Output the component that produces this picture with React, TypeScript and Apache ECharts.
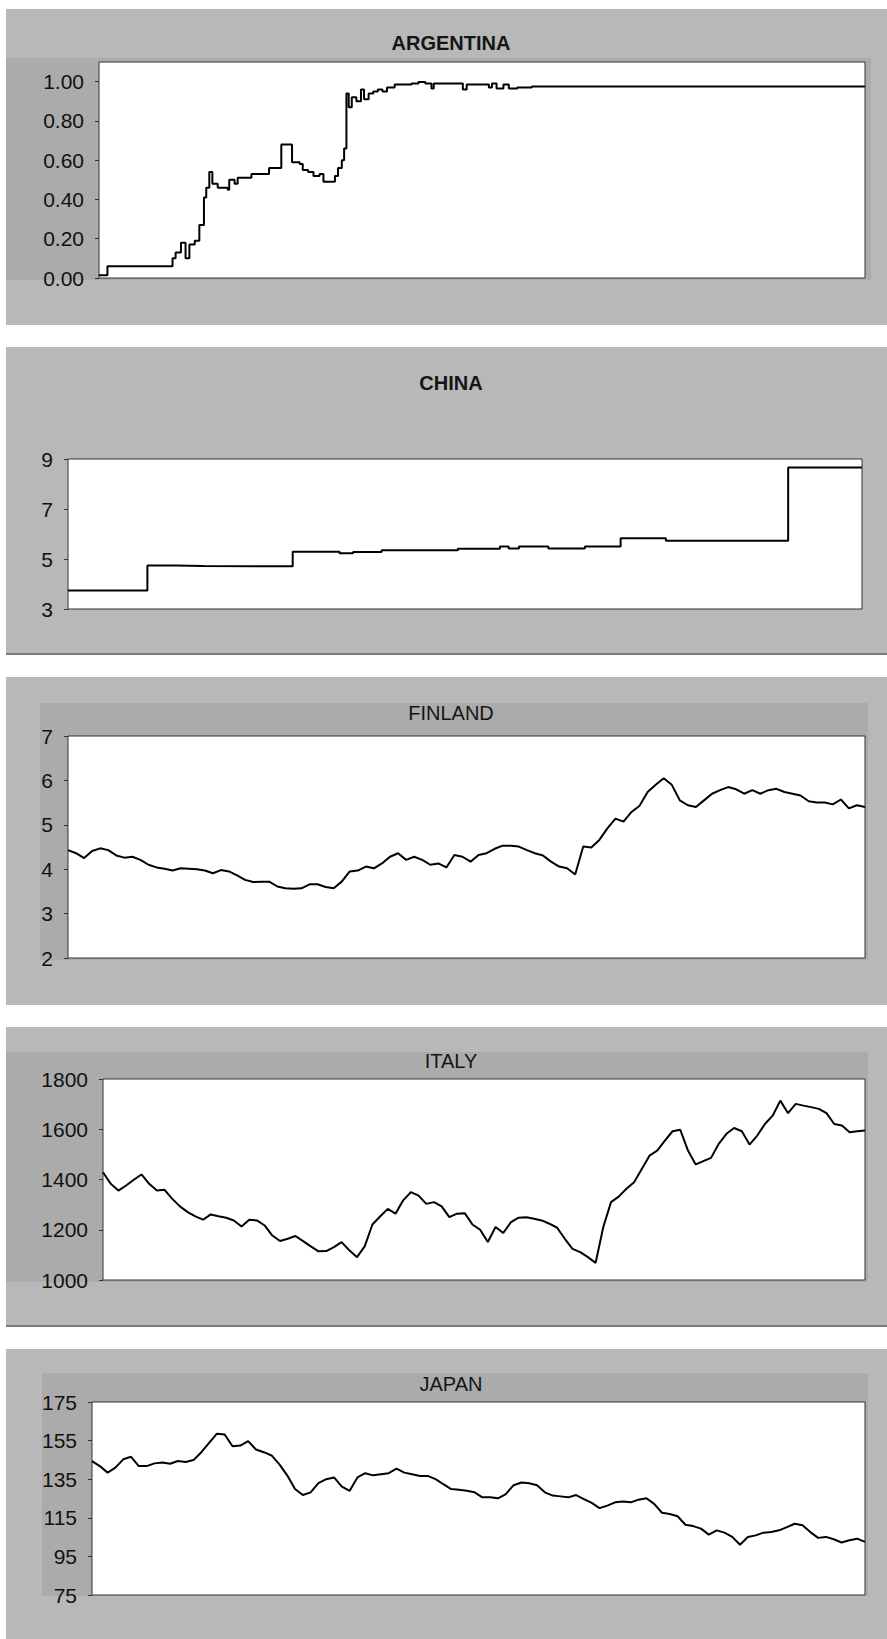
import React, { useEffect, useRef } from 'react';
import * as echarts from 'echarts';

// ---------- data ----------
const titles = ['ARGENTINA', 'CHINA', 'FINLAND', 'ITALY', 'JAPAN'];

// Argentina: step series (day index 0..1000, value)
const argDays = [0, 11, 96, 100, 107, 113, 118, 125, 131, 137, 140, 144, 148, 155, 168, 170, 177, 181, 199, 222, 238, 252, 262, 266, 273, 280, 288, 293, 308, 312, 317, 320, 323, 326, 330, 336, 342, 346, 352, 358, 364, 370, 376, 386, 408, 417, 426, 434, 437, 475, 480, 509, 513, 519, 528, 535, 546, 565, 1000];
const argValues = [0.014, 0.06, 0.10, 0.13, 0.18, 0.10, 0.17, 0.19, 0.27, 0.41, 0.46, 0.54, 0.48, 0.46, 0.45, 0.50, 0.48, 0.51, 0.53, 0.56, 0.68, 0.59, 0.58, 0.55, 0.54, 0.52, 0.53, 0.49, 0.52, 0.56, 0.60, 0.66, 0.94, 0.87, 0.92, 0.90, 0.96, 0.91, 0.94, 0.95, 0.96, 0.95, 0.97, 0.985, 0.99, 0.998, 0.99, 0.965, 0.99, 0.96, 0.985, 0.97, 0.99, 0.965, 0.985, 0.965, 0.97, 0.975, 0.975];

// China: step series
const chinaDays = [0, 100, 135, 171, 283, 342, 359, 395, 491, 544, 555, 568, 605, 651, 696, 753, 907, 1000];
const chinaValues = [3.74, 4.74, 4.72, 4.71, 5.29, 5.23, 5.28, 5.35, 5.41, 5.50, 5.42, 5.50, 5.42, 5.50, 5.83, 5.73, 8.66, 8.66];

const finlandValues = [
  4.43, 4.36, 4.25, 4.41, 4.47, 4.43, 4.31, 4.26, 4.28, 4.21,
  4.10, 4.04, 4.01, 3.97, 4.02, 4.01, 4.00, 3.97, 3.91, 3.98,
  3.95, 3.86, 3.76, 3.71, 3.72, 3.72, 3.61, 3.57, 3.56, 3.57,
  3.66, 3.66, 3.60, 3.57, 3.72, 3.95, 3.97, 4.06, 4.02, 4.13,
  4.28, 4.36, 4.21, 4.28, 4.21, 4.10, 4.13, 4.04, 4.32, 4.28,
  4.17, 4.32, 4.36, 4.46, 4.53, 4.53, 4.51, 4.43, 4.36, 4.31,
  4.17, 4.06, 4.02, 3.88, 4.51, 4.49, 4.66, 4.92, 5.14, 5.07,
  5.29, 5.43, 5.74, 5.90, 6.05, 5.90, 5.55, 5.44, 5.40, 5.55,
  5.70, 5.78, 5.85, 5.80, 5.70, 5.78, 5.70, 5.78, 5.81, 5.74,
  5.70, 5.66, 5.53, 5.50, 5.50, 5.46, 5.57, 5.37, 5.44, 5.40,
];

const italyValues = [
  1429, 1383, 1356, 1376, 1399, 1420, 1383, 1356, 1359, 1323,
  1293, 1270, 1253, 1240, 1261, 1254, 1248, 1237, 1213, 1240,
  1237, 1217, 1177, 1155, 1164, 1175, 1155, 1134, 1114, 1115,
  1131, 1151, 1118, 1091, 1134, 1221, 1253, 1283, 1264, 1317,
  1350, 1336, 1303, 1310, 1293, 1250, 1264, 1266, 1221, 1200,
  1151, 1211, 1187, 1230, 1248, 1250, 1244, 1237, 1224, 1208,
  1164, 1124, 1111, 1091, 1068, 1211, 1310, 1332, 1363, 1389,
  1442, 1495, 1515, 1555, 1592, 1598, 1515, 1460, 1473, 1486,
  1542, 1582, 1605, 1592, 1539, 1575, 1621, 1654, 1714, 1664,
  1701, 1694, 1688, 1681, 1664, 1621, 1615, 1588, 1592, 1595,
];

const japanValues = [
  144.4, 141.8, 138.4, 141.0, 145.3, 146.6, 141.8, 141.8, 143.2, 143.6,
  143.0, 144.4, 143.9, 144.9, 149.0, 153.8, 158.6, 158.1, 152.1, 152.4,
  154.7, 150.4, 149.0, 147.3, 142.7, 137.0, 129.9, 126.8, 128.2, 133.0,
  135.0, 135.9, 131.2, 129.0, 135.9, 138.1, 137.0, 137.6, 138.1, 140.5,
  138.4, 137.6, 136.7, 136.7, 135.0, 132.4, 129.9, 129.5, 129.0, 128.2,
  125.6, 125.6, 125.1, 127.3, 131.9, 133.3, 132.9, 131.9, 128.2, 126.5,
  126.1, 125.6, 126.8, 124.7, 122.7, 120.0, 121.3, 123.0, 123.4, 123.0,
  124.4, 125.1, 122.2, 117.6, 117.0, 115.8, 111.4, 110.7, 109.4, 106.3,
  108.5, 107.3, 105.1, 101.0, 105.1, 105.9, 107.3, 107.6, 108.5, 110.2,
  111.9, 111.1, 107.6, 104.6, 105.1, 103.9, 102.2, 103.4, 104.2, 102.5,
];

const argTicks = [0, 0.2, 0.4, 0.6, 0.8, 1.0];
const chinaTicks = [3, 5, 7, 9];
const finlandTicks = [2, 3, 4, 5, 6, 7];
const italyTicks = [1000, 1200, 1400, 1600, 1800];
const japanTicks = [75, 95, 115, 135, 155, 175];

// ---------- layout ----------
const FONT = '"Liberation Sans", Arial, Helvetica, sans-serif';
const W = 887;
const H = 1639;

const grids = [
  { left: 99, top: 62, width: 766, height: 216 },
  { left: 68, top: 459, width: 794, height: 150 },
  { left: 68, top: 736, width: 797, height: 222 },
  { left: 103, top: 1079, width: 762, height: 201 },
  { left: 92, top: 1402, width: 773, height: 193 },
];
const panels = [
  { y: 9, h: 316, hatch: { x: 6, y: 58, w: 865, h: 222 }, titleY: 43, bold: true, line: false },
  { y: 347, h: 308, hatch: null, titleY: 383, bold: true, line: true },
  { y: 677, h: 328, hatch: { x: 40, y: 703, w: 828, h: 257 }, titleY: 713, bold: false, line: false },
  { y: 1027, h: 300, hatch: { x: 6, y: 1052, w: 862, h: 230 }, titleY: 1061, bold: false, line: true },
  { y: 1349, h: 290, hatch: { x: 42, y: 1373, w: 826, h: 223 }, titleY: 1384, bold: false, line: false },
];

function yAxis(gridIndex: number, min: number, max: number, ticks: number[], fmt: (v: number) => string) {
  return {
    type: 'value',
    gridIndex,
    min,
    max,
    splitLine: { show: false },
    axisLine: { show: false },
    axisTick: { show: true, length: 4, customValues: ticks, lineStyle: { color: '#333', width: 1 } },
    axisLabel: {
      customValues: ticks,
      fontSize: 21,
      fontFamily: FONT,
      color: '#111',
      margin: 15,
      padding: [0, 0, 10, 0],
      formatter: (v: number) => fmt(v),
    },
  };
}

export default function App() {
  const ref = useRef<HTMLDivElement>(null);

  useEffect(() => {
    if (!ref.current) return;
    const chart = echarts.init(ref.current, undefined, { renderer: 'svg', width: W, height: H });

    const elements: any[] = [];
    panels.forEach((p, i) => {
      elements.push({
        type: 'rect', z: -10, silent: true,
        shape: { x: 6, y: p.y, width: W - 6, height: p.h },
        style: { fill: '#b8b8b8' },
      });
      if (p.hatch) {
        elements.push({
          type: 'rect', z: -9, silent: true,
          shape: { x: p.hatch.x, y: p.hatch.y, width: p.hatch.w, height: p.hatch.h },
          style: { fill: '#ababab' },
        });
      }
      if (p.line) {
        elements.push({
          type: 'rect', z: -8, silent: true,
          shape: { x: 6, y: p.y + p.h - 2, width: W - 6, height: 2 },
          style: { fill: '#7a7a7a' },
        });
      }
      elements.push({
        type: 'text', z: 10, silent: true,
        x: 451, y: p.titleY,
        style: {
          text: titles[i],
          fontSize: 20,
          fontWeight: p.bold ? 'bold' : 'normal',
          fontFamily: FONT,
          fill: '#151515',
          align: 'center',
          verticalAlign: 'middle',
        },
      });
    });

    const lineStyle = { color: '#000', width: 2 };
    const option: any = {
      animation: false,
      backgroundColor: '#ffffff',
      graphic: { elements },
      grid: grids.map((g) => ({
        ...g,
        show: true,
        backgroundColor: '#ffffff',
        borderColor: '#333',
        borderWidth: 1,
        containLabel: false,
      })),
      xAxis: [
        { type: 'value', gridIndex: 0, min: 0, max: 1000, show: false },
        { type: 'value', gridIndex: 1, min: 0, max: 1000, show: false },
        { type: 'value', gridIndex: 2, min: 0, max: finlandValues.length - 1, show: false },
        { type: 'value', gridIndex: 3, min: 0, max: italyValues.length - 1, show: false },
        { type: 'value', gridIndex: 4, min: 0, max: japanValues.length - 1, show: false },
      ],
      yAxis: [
        yAxis(0, 0, 1.1, argTicks, (v) => v.toFixed(2)),
        yAxis(1, 3, 9, chinaTicks, (v) => String(v)),
        yAxis(2, 2, 7, finlandTicks, (v) => String(v)),
        yAxis(3, 1000, 1800, italyTicks, (v) => String(v)),
        yAxis(4, 75, 175, japanTicks, (v) => String(v)),
      ],
      series: [
        {
          type: 'line', xAxisIndex: 0, yAxisIndex: 0, step: 'end', symbol: 'none', lineStyle,
          data: argDays.map((d, i) => [d, argValues[i]]),
        },
        {
          type: 'line', xAxisIndex: 1, yAxisIndex: 1, step: 'end', symbol: 'none', lineStyle,
          data: chinaDays.map((d, i) => [d, chinaValues[i]]),
        },
        {
          type: 'line', xAxisIndex: 2, yAxisIndex: 2, symbol: 'none', lineStyle,
          data: finlandValues.map((v, i) => [i, v]),
        },
        {
          type: 'line', xAxisIndex: 3, yAxisIndex: 3, symbol: 'none', lineStyle,
          data: italyValues.map((v, i) => [i, v]),
        },
        {
          type: 'line', xAxisIndex: 4, yAxisIndex: 4, symbol: 'none', lineStyle,
          data: japanValues.map((v, i) => [i, v]),
        },
      ],
    };

    chart.setOption(option);
    return () => chart.dispose();
  }, []);

  return (
    <div
      ref={ref}
      style={{ position: 'absolute', left: 0, top: 0, width: W, height: H, background: '#fff' }}
    />
  );
}
